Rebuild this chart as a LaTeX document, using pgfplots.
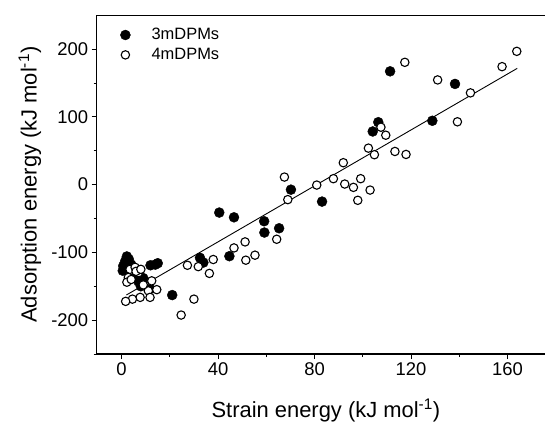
\documentclass[border=0pt]{standalone}
\usepackage{fontspec}
\setmainfont{Liberation Sans}
\usepackage{pgfplots}
\pgfplotsset{compat=1.18}
\begin{document}
\begin{tikzpicture}[x=1bp,y=1bp]
\useasboundingbox (0,0) rectangle (545,423);
\begin{axis}[
 at={(96.7bp,69bp)}, anchor=south west,
 scale only axis, width=448.3bp, height=338.7bp,
 xmin=-10.3, xmax=175.5, ymin=-250, ymax=250,
 axis x line*=bottom, axis y line*=left,
 axis line style={-, line width=1.1bp},
 xtick={0,40,80,120,160}, xticklabels={0,40,80,120,160},
 minor xtick={20,60,100,140},
 ytick={-200,-100,0,100,200}, yticklabels={-200,-100,0,100,200},
 minor ytick={-250,-150,-50,50,150},
 tick align=outside,
 major tick length=5bp, minor tick length=3bp,
 every tick/.style={black, line width=1bp},
 tick label style={font=\fontsize{18.5}{22}\selectfont},
 label style={font=\fontsize{22}{26}\selectfont},
 xlabel={Strain energy (kJ mol\textsuperscript{-1})},
 ylabel={Adsorption energy (kJ mol\textsuperscript{-1})},
 xlabel style={at={(axis description cs:0.5,0)}, anchor=base, yshift=-63bp, xshift=5bp},
 ylabel style={at={(axis description cs:-0.1488,0.5)}, anchor=center},
 legend style={at={(axis description cs:0.0408,0.9675)}, anchor=north west, draw=none, fill=none, inner sep=0pt,
   font=\fontsize{16.5}{19}\selectfont, nodes={inner sep=2bp}, row sep=3bp},
 legend cell align=left,
 legend image code/.code={\path (0bp,0bp) (34bp,0bp); \draw[#1] plot coordinates {(10bp,0bp)};},
]
\addplot[only marks, mark=*, mark size=5bp, mark options={draw=black, fill=black}] coordinates {
(2.2,-106) (0.7,-120) (1.5,-113) (3,-110) (0.5,-127) (4,-118) (12,-119) (15,-116) (14,-118)
(7,-143) (8,-150) (9,-138) (11.8,-154) (6,-135)
(21,-163) (32.5,-108) (33.9,-115) (44.7,-105.6) (40.5,-41.2) (46.6,-48.2) (59.1,-54) (59.2,-70.7)
(65.3,-64.4) (70.2,-7.4) (83.1,-25) (104.1,78.5) (106.4,92.2) (111.3,167.3) (128.8,94.3) (138.2,148.7)
};
\addlegendentry{3mDPMs}
\addplot[only marks, mark=*, mark size=4.2bp, mark options={draw=black, fill=white, line width=1.1bp}] coordinates {
(3.5,-125) (5.6,-122) (7,-130) (2.8,-137) (2.2,-144) (12.5,-142) (11.1,-156.7) (14.6,-155)
(11.8,-166.4) (7.7,-166.4) (4.5,-169) (1.7,-172.3) (6,-128) (8,-125) (4,-140) (9,-148)
(24.7,-192.5) (30,-169) (27.3,-119) (31.8,-121) (36.4,-131) (38,-110.5) (46.6,-93.4) (51.2,-84.5)
(51.5,-111.5) (55.3,-104.1) (64.3,-80.6) (67.5,11.2) (68.9,-22.1) (80.9,-0.6) (87.8,8.8) (91.9,32.4)
(92.5,0.9) (96.1,-4) (99.1,8.8) (97.9,-23.1) (103,-8) (102.3,53.9) (104.8,44.2) (107.5,84.8)
(109.5,73) (113.3,49) (117.9,44.6) (117.4,180.6) (131,154.6) (139.2,92.8) (144.6,135.5)
(157.7,174.2) (163.8,196.8)
};
\addlegendentry{4mDPMs}
\addplot[black, line width=0.9bp, mark=none, forget plot] coordinates {(2,-162.9) (164,171.7)};
\draw[line width=1.1bp] (rel axis cs:0,1) -- (rel axis cs:1,1);
\end{axis}
\end{tikzpicture}
\end{document}
